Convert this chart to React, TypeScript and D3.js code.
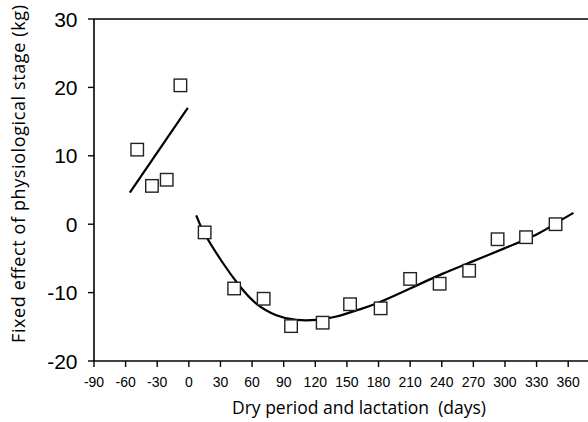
import React from "react";
import * as d3 from "d3";

const xTicks = [-90, -60, -30, 0, 30, 60, 90, 120, 150, 180, 210, 240, 270, 300, 330, 360];
const yTicks = [-20, -10, 0, 10, 20, 30];

const dryDays = [-49, -35, -21, -8];
const dryValues = [10.9, 5.6, 6.5, 20.3];

const lacDays = [15, 43, 71, 97, 127, 153, 182, 210, 238, 266, 293, 320, 348];
const lacValues = [-1.2, -9.4, -10.9, -14.9, -14.4, -11.7, -12.3, -8.0, -8.7, -6.8, -2.2, -1.9, 0.0];

const dryFitDays = [-56, -1];
const dryFitValues = [4.6, 17.0];

const lacFitDays = [7, 15, 32, 48, 64, 83, 102, 121, 140, 159, 178, 210, 240, 270, 300, 330, 348, 365];
const lacFitValues = [1.3, -1.4, -5.6, -9.0, -11.6, -13.3, -14.0, -14.0, -13.5, -12.6, -11.6, -9.4, -7.3, -5.4, -3.5, -1.5, 0.1, 1.65];

const xTitle = "Dry period and lactation  (days)";
const yTitle = "Fixed effect of physiological stage (kg)";

export default function App() {
  const W = 588, H = 422;
  const x = d3.scaleLinear().domain([-90, 360]).range([94, 568.2]);
  const y = d3.scaleLinear().domain([-20, 30]).range([361, 19]);
  const axisRight = 588;

  const line = d3.line<[number, number]>().x(d => x(d[0])).y(d => y(d[1]));
  const curve = d3.line<[number, number]>().x(d => x(d[0])).y(d => y(d[1])).curve(d3.curveNatural);

  const dryFit = dryFitDays.map((d, i) => [d, dryFitValues[i]] as [number, number]);
  const lacFit = lacFitDays.map((d, i) => [d, lacFitValues[i]] as [number, number]);
  const pts = [
    ...dryDays.map((d, i) => [d, dryValues[i]]),
    ...lacDays.map((d, i) => [d, lacValues[i]]),
  ];
  const sq = 12.5;

  return (
    <svg width={W} height={H} style={{ position: "absolute", left: 0, top: 0, background: "#fff" }}>
      <rect x={0} y={0} width={W} height={H} fill="#fff" />
      <line x1={x(-90)} x2={axisRight} y1={y(30)} y2={y(30)} stroke="#000" strokeWidth={1.6} />
      <line x1={x(-90)} x2={x(-90)} y1={y(30)} y2={y(-20)} stroke="#000" strokeWidth={1.6} />
      <line x1={x(-90)} x2={axisRight} y1={y(-20)} y2={y(-20)} stroke="#000" strokeWidth={1.6} />
      {yTicks.map(t => (
        <g key={"y" + t}>
          <line x1={x(-90) - 6} x2={x(-90)} y1={y(t)} y2={y(t)} stroke="#000" strokeWidth={1.4} />
          <text x={77.5} y={y(t)} dy="0.36em" textAnchor="end" fontFamily="Liberation Sans, Arial, sans-serif" fontSize={21} fill="#000">{t}</text>
        </g>
      ))}
      {xTicks.map(t => (
        <g key={"x" + t}>
          <line x1={x(t)} x2={x(t)} y1={y(-20)} y2={y(-20) + 6} stroke="#000" strokeWidth={1.4} />
          <text x={x(t)} y={387} textAnchor="middle" fontFamily="Liberation Sans, Arial, sans-serif" fontSize={14} fill="#000">{t}</text>
        </g>
      ))}
      <path d={line(dryFit) || ""} fill="none" stroke="#000" strokeWidth={2.2} />
      <path d={curve(lacFit) || ""} fill="none" stroke="#000" strokeWidth={2.2} />
      {pts.map((p, i) => (
        <rect key={i} x={x(p[0]) - sq / 2} y={y(p[1]) - sq / 2} width={sq} height={sq} fill="#fff" stroke="#222" strokeWidth={1.4} />
      ))}
      <text x={359} y={413.5} textAnchor="middle" fontFamily="Open Sans, sans-serif" fontSize={17.5} textLength={254} lengthAdjust="spacing" fill="#000" style={{ whiteSpace: "pre" }}>{xTitle}</text>
      <text transform={`translate(25,174) rotate(-90)`} textAnchor="middle" fontFamily="Open Sans, sans-serif" fontSize={18} textLength={338} lengthAdjust="spacing" fill="#000">{yTitle}</text>
    </svg>
  );
}
